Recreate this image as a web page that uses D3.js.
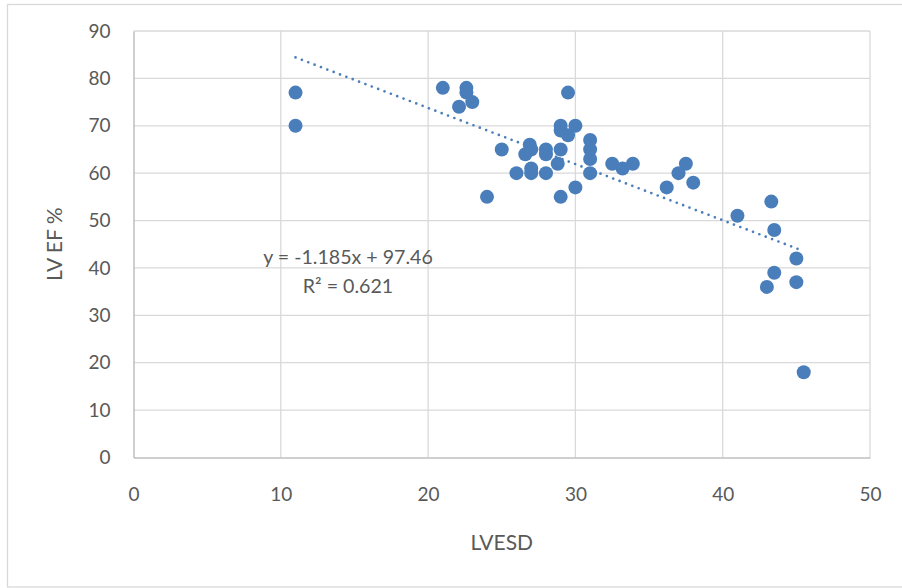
<!DOCTYPE html>
<html>
<head>
<meta charset="utf-8">
<script src="https://cdn.jsdelivr.net/npm/d3@7"></script>
<style>
  html, body { margin: 0; padding: 0; background: #fff; }
  svg text { font-family: Lato, "Liberation Sans", sans-serif; fill: #595959; }
</style>
</head>
<body>
<svg id="chart" width="902" height="588"></svg>
<script>
// Data
const lvesd = [11, 11, 21, 22.1, 22.6, 22.6, 23, 24, 25, 26, 26.6, 26.9, 27, 27, 27, 28, 28, 28, 28.8,
               29, 29, 29, 29, 29.5, 29.5, 30, 30, 31, 31, 31, 31, 32.5, 33.2, 33.9, 36.2, 37, 37.5, 38,
               41, 43, 43.3, 43.5, 43.5, 45, 45, 45.5];
const lvef  = [77, 70, 78, 74, 78, 77, 75, 55, 65, 60, 64, 66, 65, 61, 60, 65, 64, 60, 62,
               70, 69, 65, 55, 77, 68, 70, 57, 67, 65, 63, 60, 62, 61, 62, 57, 60, 62, 58,
               51, 36, 54, 48, 39, 42, 37, 18];
const xTicks = [0, 10, 20, 30, 40, 50];
const yTicks = [0, 10, 20, 30, 40, 50, 60, 70, 80, 90];
const trendSlope = -1.185;
const trendIntercept = 97.46;
const equationLines = ["y = -1.185x + 97.46", "R\u00B2 = 0.621"];
const xTitle = "LVESD";
const yTitle = "LV EF %";

const svg = d3.select("#chart");
const plot = { left: 133.5, right: 870, top: 31, bottom: 457.5 };

const x = d3.scaleLinear().domain([0, 50]).range([plot.left, plot.right]);
const y = d3.scaleLinear().domain([0, 90]).range([plot.bottom, plot.top]);

// outer chart border (right edge falls just outside the window)
svg.append("rect")
  .attr("x", 7.5).attr("y", 4.5)
  .attr("width", 905 - 7.5).attr("height", 587 - 4.5)
  .attr("fill", "none").attr("stroke", "#d9d9d9").attr("stroke-width", 1.3);

// gridlines
svg.append("g").selectAll("line").data(yTicks.filter(d => d > 0)).join("line")
  .attr("x1", plot.left).attr("x2", plot.right)
  .attr("y1", d => y(d)).attr("y2", d => y(d))
  .attr("stroke", "#d9d9d9").attr("stroke-width", 1.3);
svg.append("g").selectAll("line").data(xTicks.filter(d => d > 0)).join("line")
  .attr("y1", plot.top).attr("y2", plot.bottom)
  .attr("x1", d => x(d)).attr("x2", d => x(d))
  .attr("stroke", "#d9d9d9").attr("stroke-width", 1.3);

// axes
const xAxis = d3.axisBottom(x).tickValues(xTicks).tickSize(0).tickPadding(30);
const yAxis = d3.axisLeft(y).tickValues(yTicks).tickSize(0).tickPadding(23);

const gx = svg.append("g").attr("transform", `translate(0,${plot.bottom})`).call(xAxis);
gx.select(".domain").attr("stroke", "#bfbfbf").attr("stroke-width", 1.5);
gx.selectAll("text").attr("font-size", 19).style("fill", "#595959")
  .attr("font-family", "Lato, 'Liberation Sans', sans-serif");

const gy = svg.append("g").attr("transform", `translate(${plot.left},0)`).call(yAxis);
gy.select(".domain").attr("stroke", "#bfbfbf").attr("stroke-width", 1.5);
gy.selectAll("text").attr("font-size", 19).style("fill", "#595959")
  .attr("font-family", "Lato, 'Liberation Sans', sans-serif");

// points
const pts = lvesd.map((v, i) => ({ x: v, y: lvef[i] }));
svg.append("g").selectAll("circle").data(pts).join("circle")
  .attr("cx", d => x(d.x)).attr("cy", d => y(d.y)).attr("r", 7)
  .attr("fill", "#4a7ebb");

// trendline (dotted)
const xMin = d3.min(lvesd), xMax = d3.max(lvesd);
const trend = [xMin, xMax].map(v => ({ x: v, y: trendSlope * v + trendIntercept }));
svg.append("path")
  .datum(trend)
  .attr("d", d3.line().x(d => x(d.x)).y(d => y(d.y)))
  .attr("fill", "none").attr("stroke", "#4a7ebb")
  .attr("stroke-width", 2.7).attr("stroke-linecap", "round")
  .attr("stroke-dasharray", "0 6.8");

// equation label
svg.append("g").selectAll("text").data(equationLines).join("text")
  .attr("x", 348).attr("y", (d, i) => 263.5 + i * 29)
  .attr("text-anchor", "middle").attr("font-size", 19.6)
  .text(d => d);

// axis titles
svg.append("text").attr("x", x(25)).attr("y", 550)
  .attr("text-anchor", "middle").attr("font-size", 21).text(xTitle);
svg.append("text")
  .attr("transform", `translate(62,${(plot.top + plot.bottom) / 2}) rotate(-90)`)
  .attr("text-anchor", "middle").attr("font-size", 21).text(yTitle);
</script>
</body>
</html>
